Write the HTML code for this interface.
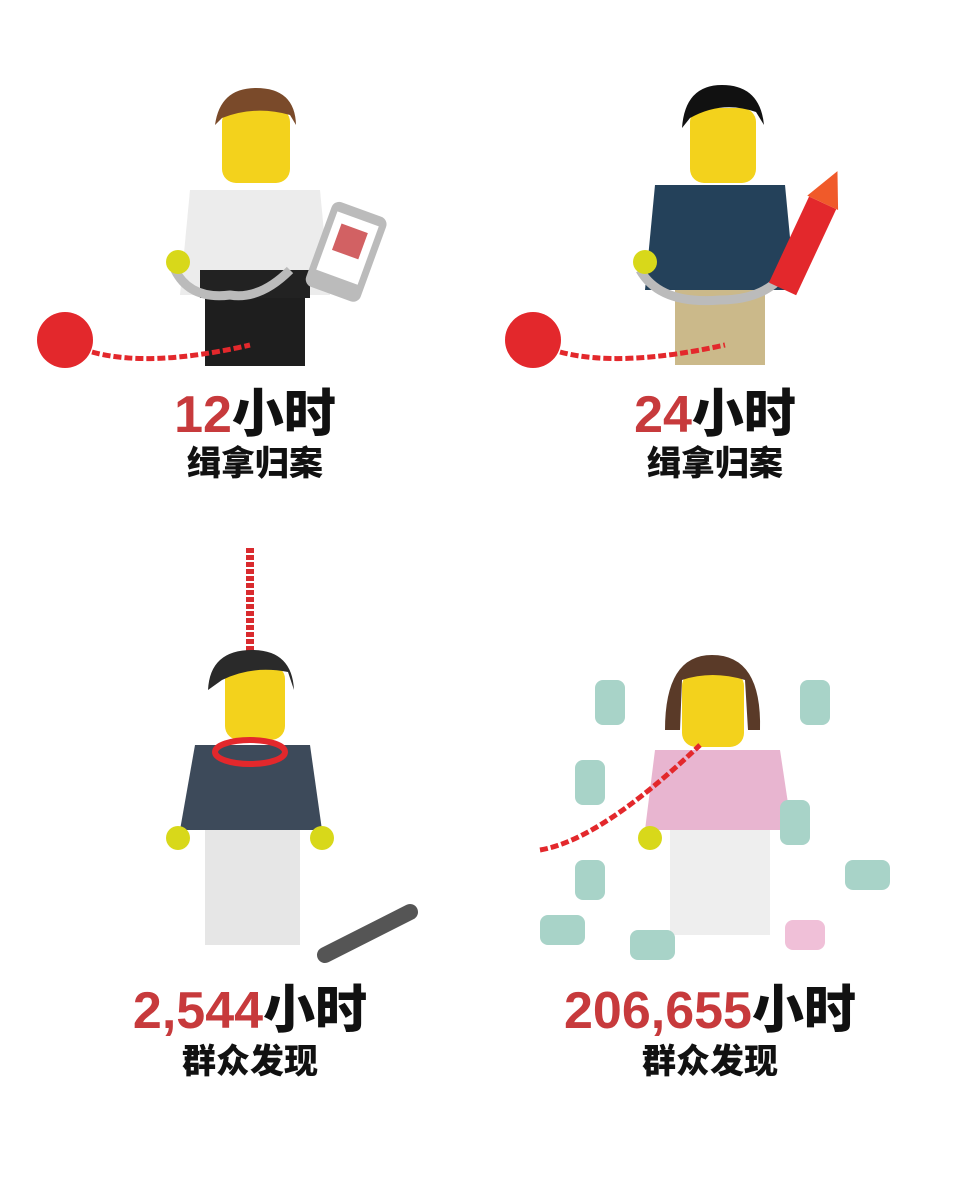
<!DOCTYPE html>
<html><head><meta charset="utf-8"><style>
body{margin:0;background:#fff;}
#wrap{position:relative;width:960px;height:1198px;overflow:hidden;background:#fff;font-family:"Liberation Sans","Noto Sans CJK SC",sans-serif;}
.t{position:absolute;font-weight:900;text-align:center;white-space:nowrap;color:#111;}
.big{font-size:52px;line-height:56px;}
.sm{font-size:34px;line-height:38px;}
.r{color:#c73a3c;}
svg{position:absolute;left:0;top:0;}
</style></head><body>
<div id="wrap">
<svg width="960" height="1198">
 <!-- figure 1 -->
 <g>
  <rect x="205" y="298" width="100" height="68" fill="#1e1e1e"/>
  <path d="M190 190 L320 190 L330 295 L180 295 Z" fill="#ececec"/>
  <rect x="222" y="108" width="68" height="75" rx="14" fill="#f3d21c"/>
  <path d="M215 125 Q220 88 256 88 Q295 88 296 125 L290 115 Q255 105 222 118 Z" fill="#7a4a2a"/>
  <rect x="200" y="270" width="110" height="28" fill="#222"/>
  <path d="M175 270 Q190 300 230 295 Q260 300 290 270" stroke="#bbb" stroke-width="9" fill="none"/>
  <circle cx="178" cy="262" r="12" fill="#d8d81a"/>
  <g transform="rotate(20 350 250)"><rect x="318" y="208" width="58" height="90" rx="8" fill="#bbb"/><rect x="325" y="218" width="44" height="62" fill="#fff"/><rect x="333" y="228" width="28" height="28" fill="#c73a3c" opacity="0.8"/></g>
  <circle cx="65" cy="340" r="28" fill="#e3282c"/>
  <path d="M92 352 Q150 368 250 345" stroke="#e3282c" stroke-width="5" stroke-dasharray="8 3" fill="none"/>
 </g>
 <!-- figure 2 -->
 <g>
  <rect x="675" y="290" width="90" height="75" fill="#cbb98a"/>
  <path d="M655 185 L785 185 L795 290 L645 290 Z" fill="#24415a"/>
  <rect x="690" y="108" width="66" height="75" rx="14" fill="#f3d21c"/>
  <path d="M682 128 Q685 85 722 85 Q760 85 764 125 L756 112 Q722 100 690 118 Z" fill="#111"/>
  <path d="M640 270 Q660 305 720 300 Q770 300 790 265" stroke="#bbb" stroke-width="9" fill="none"/>
  <circle cx="645" cy="262" r="12" fill="#d8d81a"/>
  <g transform="rotate(25 810 230)"><rect x="795" y="200" width="30" height="95" fill="#e3282c"/><path d="M793 200 L810 165 L827 200 Z" fill="#f05a2a"/></g>
  <circle cx="533" cy="340" r="28" fill="#e3282c"/>
  <path d="M560 352 Q620 368 725 345" stroke="#e3282c" stroke-width="5" stroke-dasharray="8 3" fill="none"/>
 </g>
 <!-- figure 3 -->
 <g>
  <path d="M250 548 L250 735" stroke="#d92a2e" stroke-width="8" stroke-dasharray="5 2"/>
  <rect x="205" y="830" width="95" height="115" fill="#e6e6e6"/>
  <path d="M195 745 L310 745 L322 830 L180 830 Z" fill="#3d4a5a"/>
  <rect x="225" y="665" width="60" height="75" rx="14" fill="#f3d21c"/>
  <path d="M208 690 Q210 650 252 650 Q292 650 294 690 L288 672 Q252 665 222 680 Z" fill="#2a2a2a"/>
  <ellipse cx="250" cy="752" rx="35" ry="12" fill="none" stroke="#e3282c" stroke-width="6"/>
  <circle cx="178" cy="838" r="12" fill="#d8d81a"/><circle cx="322" cy="838" r="12" fill="#d8d81a"/>
  <path d="M325 955 L410 912" stroke="#555" stroke-width="16" stroke-linecap="round"/>
 </g>
 <!-- figure 4 -->
 <g>
  <rect x="670" y="830" width="100" height="105" fill="#eeeeee"/>
  <path d="M655 750 L780 750 L792 830 L645 830 Z" fill="#e8b5d0"/>
  <rect x="682" y="672" width="62" height="75" rx="14" fill="#f3d21c"/>
  <path d="M665 730 Q665 655 712 655 Q762 655 760 730 L748 730 L745 680 Q712 670 682 680 L680 730 Z" fill="#5a3a28"/>
  <circle cx="650" cy="838" r="12" fill="#d8d81a"/>
  <path d="M540 850 Q600 840 700 745" stroke="#e3282c" stroke-width="5" stroke-dasharray="8 3" fill="none"/>
  <g fill="#a8d3c8">
   <rect x="595" y="680" width="30" height="45" rx="8"/><rect x="800" y="680" width="30" height="45" rx="8"/>
   <rect x="575" y="760" width="30" height="45" rx="8"/><rect x="780" y="800" width="30" height="45" rx="8"/>
   <rect x="845" y="860" width="45" height="30" rx="8"/><rect x="540" y="915" width="45" height="30" rx="8"/>
   <rect x="630" y="930" width="45" height="30" rx="8"/><rect x="575" y="860" width="30" height="40" rx="8"/>
  </g>
  <rect x="785" y="920" width="40" height="30" rx="8" fill="#f0c0d8"/>
 </g>
</svg>
<div class="t big" style="left:105px;width:300px;top:387px;"><span class="r">12</span>小时</div>
<div class="t sm" style="left:105px;width:300px;top:445px;">缉拿归案</div>
<div class="t big" style="left:565px;width:300px;top:387px;"><span class="r">24</span>小时</div>
<div class="t sm" style="left:565px;width:300px;top:445px;">缉拿归案</div>
<div class="t big" style="left:50px;width:400px;top:983px;"><span class="r">2,544</span>小时</div>
<div class="t sm" style="left:50px;width:400px;top:1043px;">群众发现</div>
<div class="t big" style="left:490px;width:440px;top:983px;"><span class="r">206,655</span>小时</div>
<div class="t sm" style="left:490px;width:440px;top:1043px;">群众发现</div>
</div>
</body></html>
